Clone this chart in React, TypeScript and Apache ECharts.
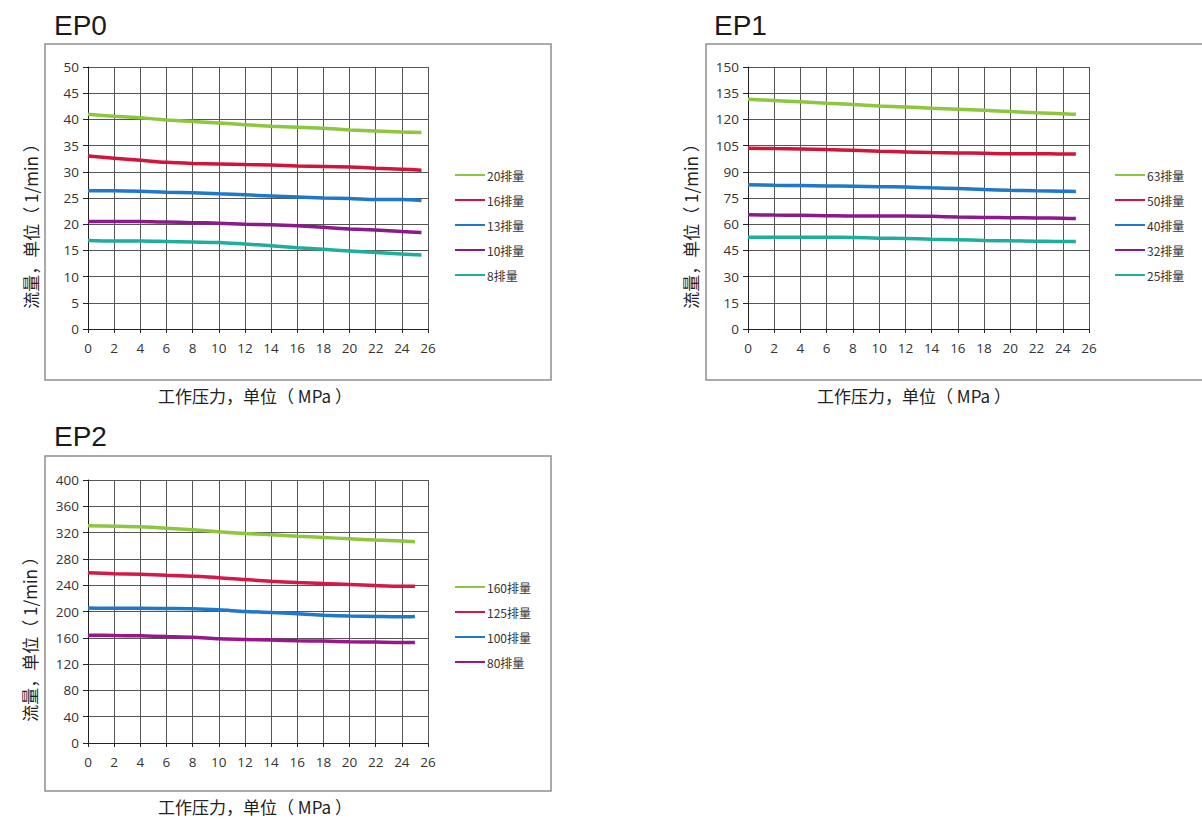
import React, { useEffect, useRef } from "react";
import * as echarts from "echarts";

// ---- data ----
const pressureEP0 = [0, 2, 4, 6, 8, 10, 12, 14, 16, 18, 20, 22, 24, 25.5];
const pressureEP1 = [0, 2, 4, 6, 8, 10, 12, 14, 16, 18, 20, 22, 24, 25];
const pressureEP2 = [0, 2, 4, 6, 8, 10, 12, 14, 16, 18, 20, 22, 24, 25];

const namesEP0 = ["20排量", "16排量", "13排量", "10排量", "8排量"];
const ep0_20 = [41.0, 40.6, 40.3, 39.9, 39.6, 39.3, 39.0, 38.7, 38.5, 38.3, 38.0, 37.8, 37.6, 37.5];
const ep0_16 = [33.0, 32.6, 32.2, 31.8, 31.6, 31.5, 31.4, 31.3, 31.1, 31.0, 30.9, 30.7, 30.5, 30.3];
const ep0_13 = [26.4, 26.4, 26.3, 26.1, 26.0, 25.8, 25.6, 25.4, 25.2, 25.0, 24.9, 24.7, 24.7, 24.5];
const ep0_10 = [20.5, 20.5, 20.5, 20.4, 20.3, 20.2, 20.0, 19.9, 19.7, 19.4, 19.1, 18.9, 18.6, 18.4];
const ep0_8 = [16.9, 16.8, 16.8, 16.7, 16.6, 16.5, 16.2, 15.9, 15.5, 15.2, 14.9, 14.6, 14.3, 14.1];

const namesEP1 = ["63排量", "50排量", "40排量", "32排量", "25排量"];
const ep1_63 = [131.5, 130.8, 130.1, 129.3, 128.6, 127.7, 127.1, 126.4, 125.8, 125.2, 124.5, 123.8, 123.3, 122.9];
const ep1_50 = [103.5, 103.3, 103.1, 102.7, 102.3, 101.8, 101.4, 101.0, 100.8, 100.6, 100.4, 100.4, 100.2, 100.2];
const ep1_40 = [82.6, 82.3, 82.1, 81.9, 81.7, 81.5, 81.3, 80.8, 80.4, 79.8, 79.4, 79.1, 78.9, 78.7];
const ep1_32 = [65.4, 65.2, 65.1, 64.9, 64.7, 64.7, 64.7, 64.5, 64.1, 63.9, 63.7, 63.6, 63.4, 63.2];
const ep1_25 = [52.6, 52.6, 52.6, 52.5, 52.4, 52.0, 51.8, 51.4, 51.1, 50.7, 50.5, 50.3, 50.1, 50.1];

const namesEP2 = ["160排量", "125排量", "100排量", "80排量"];
const ep2_160 = [330.5, 329.8, 328.8, 326.8, 324.2, 321.2, 318.7, 316.7, 314.6, 312.6, 310.6, 308.6, 307.1, 306.0];
const ep2_125 = [259.0, 257.6, 256.6, 255.0, 253.5, 251.5, 248.5, 246.0, 244.0, 242.4, 241.0, 239.4, 238.4, 238.4];
const ep2_100 = [205.5, 205.0, 205.0, 204.5, 204.0, 202.5, 200.0, 198.5, 196.5, 194.4, 193.0, 192.4, 191.9, 192.4];
const ep2_80 = [164.0, 163.5, 163.0, 162.0, 161.0, 158.6, 157.6, 156.6, 155.6, 155.0, 154.0, 153.5, 153.0, 153.0];

const titles = ["EP0", "EP1", "EP2"];
const yMax = [50, 150, 400];
const yInterval = [5, 15, 40];
const xMax = 26;
const xInterval = 2;
const yAxisName = "流量，单位（ 1/min ）";
const xAxisName = "工作压力，单位（ MPa ）";

const colorsEP0 = ["#8dc63f", "#d2143a", "#1f78c8", "#8b1a8b", "#1fae9c"];
const colorsEP1 = ["#8dc63f", "#d2143a", "#1f78c8", "#8b1a8b", "#1fae9c"];
const colorsEP2 = ["#8dc63f", "#d41848", "#1f78c8", "#9a168c"];

const NUM_FONT = '"Open Sans", "Noto Sans CJK SC", sans-serif';
const CJK_FONT = '"Noto Sans CJK SC", "Open Sans", sans-serif';
const TITLE_FONT = '"Liberation Sans", Arial, sans-serif';

export default function App() {
  const ref = useRef<HTMLDivElement>(null);
  useEffect(() => {
    if (!ref.current) return;
    const chart = echarts.init(ref.current, undefined, { renderer: "svg" });

    const grids = [
      { left: 88, top: 67, width: 340, height: 262 },
      { left: 748, top: 67, width: 341, height: 262 },
      { left: 88, top: 480, width: 340, height: 263 },
    ];

    const mkX = (i: number) => ({
      type: "value",
      gridIndex: i,
      min: 0,
      max: xMax,
      interval: xInterval,
      axisLine: { show: true, onZero: false, lineStyle: { color: "#222", width: 1 } },
      axisTick: { show: true, length: 4, lineStyle: { color: "#222" } },
      axisLabel: { color: "#333", fontSize: 13.5, fontFamily: NUM_FONT, margin: 12 },
      splitLine: { show: true, lineStyle: { color: "#555", width: 1 } },
    });
    const mkY = (i: number) => ({
      type: "value",
      gridIndex: i,
      min: 0,
      max: yMax[i],
      interval: yInterval[i],
      axisLine: { show: true, lineStyle: { color: "#222", width: 1 } },
      axisTick: { show: true, length: 5, lineStyle: { color: "#222" } },
      axisLabel: { color: "#333", fontSize: 13.5, fontFamily: NUM_FONT, margin: 9 },
      splitLine: { show: true, lineStyle: { color: "#555", width: 1 } },
    });

    const groups = [
      { names: namesEP0, values: [ep0_20, ep0_16, ep0_13, ep0_10, ep0_8], x: pressureEP0, colors: colorsEP0 },
      { names: namesEP1, values: [ep1_63, ep1_50, ep1_40, ep1_32, ep1_25], x: pressureEP1, colors: colorsEP1 },
      { names: namesEP2, values: [ep2_160, ep2_125, ep2_100, ep2_80], x: pressureEP2, colors: colorsEP2 },
    ];

    const series: any[] = [];
    groups.forEach((g, gi) => {
      g.names.forEach((n, si) => {
        series.push({
          type: "line",
          name: n,
          xAxisIndex: gi,
          yAxisIndex: gi,
          smooth: 0.3,
          symbol: "none",
          showSymbol: false,
          color: g.colors[si],
          lineStyle: { width: 3.5, color: g.colors[si] },
          data: g.x.map((x, k) => [x, g.values[si][k]]),
        });
      });
    });

    const legendPos = [
      { left: 455, top: 168 },
      { left: 1115, top: 168 },
      { left: 455, top: 580 },
    ];
    const legends = groups.map((g, gi) => ({
      data: g.names,
      orient: "vertical",
      left: legendPos[gi].left,
      top: legendPos[gi].top,
      icon: "rect",
      itemWidth: 30,
      itemHeight: 2,
      itemGap: 11,
      padding: 0,
      textStyle: {
        fontSize: 12,
        color: "#333",
        fontFamily: CJK_FONT,
        lineHeight: 14,
        padding: [0, 0, 0, -3],
      },
      selectedMode: false,
    }));

    const boxes = [
      { x: 45, y: 44, w: 506, h: 336 },
      { x: 706, y: 44, w: 520, h: 336 },
      { x: 45, y: 456, w: 506, h: 335 },
    ];
    const titlePos = [
      { x: 54, y: 25 },
      { x: 714, y: 25 },
      { x: 54, y: 436 },
    ];
    const yNamePos = [
      { x: 30, y: 222 },
      { x: 690, y: 222 },
      { x: 29, y: 635 },
    ];
    const xNamePos = [
      { x: 255, y: 395 },
      { x: 914, y: 395 },
      { x: 255, y: 806 },
    ];

    const graphic: any[] = [];
    boxes.forEach((b) => {
      graphic.push({
        type: "rect",
        shape: { x: b.x, y: b.y, width: b.w, height: b.h },
        style: { fill: "none", stroke: "#8f8f8f", lineWidth: 1.5 },
        z: -1,
        silent: true,
      });
    });
    titles.forEach((t, i) => {
      graphic.push({
        type: "text",
        x: titlePos[i].x,
        y: titlePos[i].y,
        style: {
          text: t,
          fontSize: 28,
          fontFamily: TITLE_FONT,
          fill: "#1a1a1a",
          textAlign: "left",
          textVerticalAlign: "middle",
        },
      });
      graphic.push({
        type: "text",
        x: yNamePos[i].x,
        y: yNamePos[i].y,
        rotation: Math.PI / 2,
        style: {
          text: yAxisName,
          fontSize: 17,
          fontFamily: CJK_FONT,
          fill: "#222",
          textAlign: "center",
          textVerticalAlign: "middle",
        },
      });
      graphic.push({
        type: "text",
        x: xNamePos[i].x,
        y: xNamePos[i].y,
        style: {
          text: xAxisName,
          fontSize: 17,
          fontFamily: CJK_FONT,
          fill: "#222",
          textAlign: "center",
          textVerticalAlign: "middle",
        },
      });
    });

    chart.setOption({
      animation: false,
      backgroundColor: "#ffffff",
      grid: grids.map((g) => ({ ...g, show: false, containLabel: false })),
      xAxis: [0, 1, 2].map(mkX),
      yAxis: [0, 1, 2].map(mkY),
      legend: legends,
      series,
      graphic,
    });

    return () => chart.dispose();
  }, []);

  return (
    <div
      ref={ref}
      style={{ position: "absolute", left: 0, top: 0, width: 1202, height: 821, background: "#fff" }}
    />
  );
}
